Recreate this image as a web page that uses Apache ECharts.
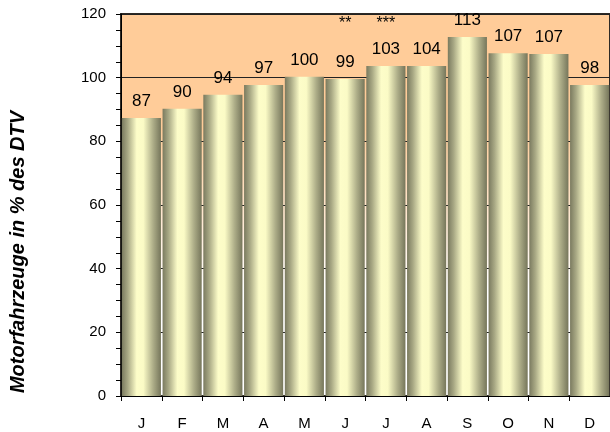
<!DOCTYPE html>
<html>
<head>
<meta charset="utf-8">
<script src="https://cdn.jsdelivr.net/npm/echarts@6/dist/echarts.min.js"></script>
<style>html,body{margin:0;padding:0;background:#fff;}#c{width:610px;height:432px;}</style>
</head>
<body>
<div id="c"></div>
<script>
const months = ['J','F','M','A','M','J','J','A','S','O','N','D'];
const values = [87.3, 90.2, 94.6, 97.7, 100.3, 99.6, 103.7, 103.7, 112.8, 107.7, 107.4, 97.7];
const labels = ['87', '90', '94', '97', '100', '99', '103', '104', '113', '107', '107', '98'];
const notes = ['', '', '', '', '', '**', '***', '', '', '', '', ''];
const yMin = 0, yMax = 120, yStep = 20;
const yTitle = 'Motorfahrzeuge in % des DTV';

const font = 'Arial, "Liberation Sans", sans-serif';
const chart = echarts.init(document.getElementById('c'), null, {renderer: 'canvas'});
chart.setOption({
  animation: false,
  backgroundColor: '#ffffff',
  grid: {
    left: 121, top: 14, width: 494, height: 382,
    show: true, borderWidth: 2, borderColor: '#2e2a26',
    backgroundColor: {type: 'linear', x: 0, y: 0, x2: 0, y2: 1, colorStops: [
      {offset: 0, color: '#FFCC99'}, {offset: 0.3, color: '#FFCC99'},
      {offset: 0.72, color: '#ffffff'}, {offset: 1, color: '#ffffff'}]}
  },
  xAxis: {
    type: 'category', data: months,
    axisLine: {lineStyle: {color: '#000', width: 1}},
    axisTick: {show: true, length: 5, lineStyle: {color: '#000'}},
    axisLabel: {color: '#000', fontSize: 15, fontFamily: font, margin: 20}
  },
  yAxis: {
    type: 'value', min: yMin, max: yMax, interval: yStep,
    name: yTitle, nameLocation: 'middle', nameGap: 93, nameRotate: 90,
    nameTextStyle: {color: '#000', fontSize: 20, fontWeight: 'bold', fontStyle: 'italic', fontFamily: font,
      padding: [0, 94, 0, 0]},
    axisLine: {show: true, lineStyle: {color: '#000', width: 1}},
    axisTick: {show: true, length: 5, lineStyle: {color: '#000'}},
    minorTick: {show: true, splitNumber: 4, length: 5, lineStyle: {color: '#000'}},
    axisLabel: {color: '#000', fontSize: 15, fontFamily: font, margin: 15},
    splitLine: {show: true, lineStyle: {color: '#222', width: 1}}
  },
  series: [{
    type: 'bar', data: values, barCategoryGap: '4%',
    itemStyle: {color: {type: 'linear', x: 0, y: 0, x2: 1, y2: 0, colorStops: [
      {offset: 0, color: '#7a7a5f'}, {offset: 0.15, color: '#a8a884'},
      {offset: 0.38, color: '#fdfdc9'}, {offset: 0.55, color: '#fbfbc6'},
      {offset: 0.8, color: '#adad88'}, {offset: 1, color: '#76765b'}]}},
    label: {show: true, position: 'top', distance: 8, color: '#000', fontSize: 17, fontFamily: font,
      formatter: p => labels[p.dataIndex]}
  }, {
    type: 'bar', data: notes.map(n => n ? yMax : null), barGap: '-100%', barCategoryGap: '4%',
    itemStyle: {color: 'rgba(0,0,0,0)'}, silent: true,
    label: {show: true, position: 'insideTop', distance: 2, color: '#000', fontSize: 16, fontFamily: font,
      formatter: p => notes[p.dataIndex]}
  }]
});
</script>
</body>
</html>
